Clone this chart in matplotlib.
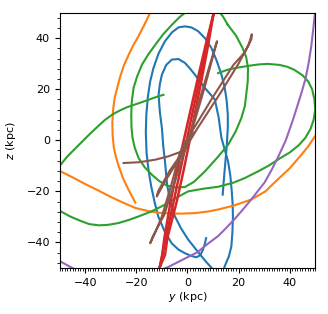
import matplotlib
matplotlib.use('Agg')
import matplotlib.pyplot as plt
from matplotlib.ticker import MultipleLocator

# orbit projections, y-z plane (kpc)
# blue orbit: outer arc (ends with a hook) and inner arc (leaves through the bottom)
blue_outer_y = [13.8, 14.2, 14.8, 15.4, 15.8, 15.8, 15.3, 14.5, 13.3, 11.5, 9.4, 7.0, 4.2, 1.5,
                -1.0, -3.5, -6.0, -8.8, -11.3, -13.3, -14.6, -15.5, -16.1, -16.3, -16.0, -15.2,
                -14.2, -12.8, -11.4, -9.0, -6.2, -3.5, -1.0, 1.5, 3.5, 5.0, 6.0, 6.8, 7.3]
blue_outer_z = [-21.3, -16.0, -9.0, -2.0, 5.0, 10.0, 16.0, 21.0, 25.7, 31.0, 36.1, 39.8, 42.7, 44.2,
                44.6, 44.2, 42.3, 38.8, 34.0, 28.3, 23.0, 17.0, 10.0, 3.0, -5.0, -12.0,
                -18.0, -24.5, -29.9, -35.5, -40.3, -42.8, -44.2, -45.3, -45.8, -45.0, -43.0, -40.5, -38.3]
blue_inner_y = [10.5, 9.4, 7.5, 5.5, 3.0, 0.3, -2.5, -4.9, -6.8, -8.0, -8.8, -9.5, -10.0, -10.8,
                -11.3, -10.8, -10.0, -8.3, -6.1, -3.5, -1.0, 0.9, 2.9, 4.9, 6.8, 8.8, 10.7, 12.2,
                13.3, 14.7, 15.9, 16.8, 17.3, 17.7, 17.8, 17.6, 17.2, 16.2, 14.6, 14.0]
blue_inner_z = [-52.0, -49.9, -47.8, -45.4, -42.3, -38.9, -34.5, -29.8, -23.5, -17.2, -8.3, -2.0, 4.8, 11.0,
                17.8, 22.0, 25.7, 29.5, 31.6, 31.8, 30.3, 28.2, 25.7, 23.0, 20.5, 18.2, 16.0, 9.0,
                0.9, -4.0, -8.3, -14.0, -19.4, -25.0, -29.8, -36.0, -41.5, -45.5, -49.3, -51.0]

# orange orbit: two arcs
orange_a_y = [-13.5, -14.6, -16.0, -17.5, -19.3, -21.2, -23.0, -24.8, -26.3, -27.5, -28.5, -29.1,
              -29.4, -29.3, -28.8, -28.0, -26.8, -25.0, -23.0, -20.4]
orange_a_z = [53.0, 50.0, 47.0, 44.0, 40.5, 37.2, 33.5, 29.5, 25.0, 20.5, 16.6, 12.0,
              7.0, 2.0, -3.0, -6.5, -10.5, -15.4, -19.5, -24.4]
orange_b_y = [-53.0, -50.0, -45.0, -40.5, -35.0, -30.2, -25.0, -20.4, -15.0, -10.7, -6.0, -2.0, 3.0,
              8.0, 12.0, 18.0, 25.0, 30.5, 35.3, 40.0, 44.0, 47.2, 49.9, 52.0]
orange_b_z = [-10.5, -12.0, -14.5, -16.9, -19.6, -22.1, -24.5, -26.5, -27.8, -28.4, -28.7, -28.7, -28.5,
              -27.9, -27.1, -25.6, -23.2, -20.0, -15.4, -11.0, -6.4, -2.5, 1.5, 5.0]

# green orbit: tilted loop, big right arc, left arc
green_loop_y = [15.8, 14.0, 12.0, 8.0, 4.0, 0.5, -3.0, -6.1, -9.5, -12.6, -15.4, -17.8, -19.7, -21.1,
                -21.8, -22.0, -21.9, -21.5, -20.6, -19.1, -16.8, -13.9, -11.0, -8.1, -4.5, -1.0,
                2.5, 6.8, 11.5, 15.9, 18.9, 21.1, 22.5, 23.0, 23.6, 23.7, 23.0, 21.6, 19.0, 15.8]
green_loop_z = [45.2, 48.3, 51.0, 53.0, 53.0, 51.0, 48.3, 45.2, 41.5, 37.4, 33.5, 29.6, 25.0, 20.5,
                15.0, 10.0, 5.0, 0.9, -3.0, -7.0, -10.5, -13.5, -16.0, -17.7, -18.5, -18.3,
                -16.3, -12.2, -7.0, -1.8, 3.5, 8.7, 13.5, 17.8, 23.0, 28.3, 32.5, 36.1, 41.0, 45.2]
green_arc_y = [12.0, 14.0, 16.0, 20.0, 25.0, 28.0, 31.6, 36.0, 39.0, 41.8, 45.0, 47.3, 48.8, 49.7,
               50.0, 49.4, 48.2, 46.2, 43.5, 40.0, 36.3, 32.0, 28.0, 22.4, 18.0, 12.0, 6.0, 0.3,
               -4.0, -8.8, -14.0, -19.1, -23.0, -27.0, -31.0, -34.7, -38.5, -42.0, -46.0, -50.0, -53.0]
green_arc_z = [26.3, 27.0, 27.7, 28.5, 29.3, 29.7, 29.9, 29.5, 28.8, 27.6, 25.5, 23.0, 20.0, 16.0,
               12.0, 8.0, 4.5, 1.0, -2.0, -4.8, -7.0, -9.8, -12.0, -14.8, -16.6, -18.2, -19.0, -20.0,
               -22.3, -25.2, -27.8, -29.8, -31.2, -32.4, -33.1, -33.3, -32.8, -31.5, -29.8, -27.6, -25.5]
green_left_y = [-9.4, -12.0, -14.0, -16.5, -19.1, -21.5, -24.0, -27.0, -29.5, -32.5, -35.0, -38.0,
                -41.2, -44.0, -47.0, -50.0, -53.0]
green_left_z = [17.8, 17.0, 16.3, 15.4, 14.5, 13.7, 12.8, 11.4, 10.0, 7.8, 5.5, 2.7,
                -0.5, -3.3, -6.3, -10.0, -14.0]

# red orbit: thin elongated band
red_y = [-10.8, -9.9, -9.0, -6.6, -4.15, -1.9, 0.8, 4.0, 7.05, 10.2,
         8.05, 5.6, 2.8, 0.5, -1.55, -4.2, -7.8, -8.8, -10.8]
red_z = [-49.5, -45.0, -38.0, -24.0, -12.0, -2.0, 10.0, 24.0, 37.0, 49.5,
         37.0, 24.0, 10.0, -2.0, -12.0, -24.0, -38.0, -45.0, -49.5]
red_mid_y = [-10.8, -8.4, -5.4, -2.85, -0.73, 1.8, 4.8, 7.55, 10.2]
red_mid_z = [-49.5, -38.0, -24.0, -12.0, -2.0, 10.0, 24.0, 37.0, 49.5]

# purple orbit: big arc, dips below the frame
purple_y = [50.4, 49.9, 49.3, 48.5, 47.5, 46.2, 44.4, 41.3, 38.5, 35.6, 33.0, 30.2, 26.3, 22.4,
            18.5, 15.0, 12.0, 8.0, 3.8, -1.0, -7.5, -15.0, -25.0, -35.0, -44.0, -50.0, -55.0]
purple_z = [53.0, 49.7, 44.0, 37.0, 30.5, 24.0, 17.8, 8.0, 0.0, -6.3, -11.5, -16.5, -21.5, -26.3,
            -30.8, -34.5, -37.5, -40.5, -43.9, -46.3, -49.6, -52.5, -54.8, -53.6, -50.6, -47.3, -44.0]

# brown orbit: narrow loops through the centre
brown_y = [-25.0, -19.0, -12.6, -7.5, -2.3, 0.5, 3.8, 12.9, 20.0, 24.0, 25.2, 25.0, 22.5, 18.0,
           10.0, 3.0, -1.0, -3.0, -6.1, -10.0, -13.0, -14.6, -13.5, -9.0, -5.2, -2.0, 0.0, 3.0,
           6.8, 9.5, 11.6, 11.0, 8.0, 4.5, 1.5, -1.0, -5.0, -9.0, -12.0, -11.5, -7.0, -2.5, 0.0, 2.5]
brown_z = [-8.9, -8.6, -7.6, -6.3, -4.4, -1.0, 4.5, 18.5, 30.0, 37.5, 41.5, 39.5, 34.5, 29.5,
           17.0, 5.5, -1.0, -5.0, -16.7, -29.8, -37.0, -40.3, -37.5, -29.0, -17.0, -7.0, -1.0, 8.0,
           21.0, 31.0, 38.8, 37.0, 27.0, 15.0, 4.0, -4.0, -10.0, -16.5, -22.0, -20.0, -12.0, -5.5, -1.0, 3.0]

fig = plt.figure(figsize=(3.28, 3.14), dpi=100)
ax = fig.add_axes([0.180, 0.1465, 0.783, 0.8135])

ax.plot(blue_outer_y, blue_outer_z, color='C0')
ax.plot(blue_inner_y, blue_inner_z, color='C0')
ax.plot(orange_a_y, orange_a_z, color='C1')
ax.plot(orange_b_y, orange_b_z, color='C1')
ax.plot(green_loop_y, green_loop_z, color='C2')
ax.plot(green_arc_y, green_arc_z, color='C2')
ax.plot(green_left_y, green_left_z, color='C2')
ax.plot(red_y, red_z, color='C3', lw=1.8)
ax.plot(red_mid_y, red_mid_z, color='C3', lw=1.8)
ax.plot(purple_y, purple_z, color='C4')
ax.plot(brown_y, brown_z, color='C5')

ax.set_xlim(-50, 50)
ax.set_ylim(-50, 50)
ax.set_aspect('equal')
ax.xaxis.set_major_locator(MultipleLocator(20))
ax.yaxis.set_major_locator(MultipleLocator(20))
ax.xaxis.set_minor_locator(MultipleLocator(1))
ax.yaxis.set_minor_locator(MultipleLocator(4))
ax.tick_params(labelsize=8)
ax.set_xlabel(r'$y$ (kpc)', fontsize=8, labelpad=2)
ax.set_ylabel(r'$z$ (kpc)', fontsize=8, labelpad=6)

fig.savefig('out.png', dpi=100)
